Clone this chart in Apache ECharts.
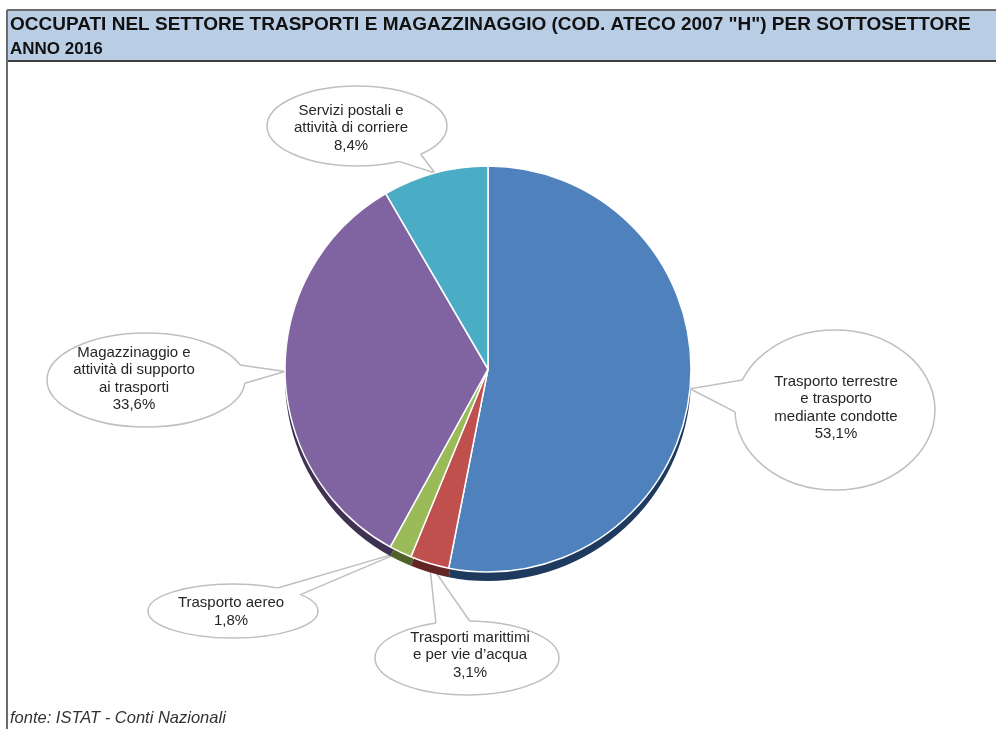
<!DOCTYPE html>
<html>
<head>
<meta charset="utf-8">
<script src="https://cdn.jsdelivr.net/npm/echarts@6/dist/echarts.min.js"></script>
<style>
html,body{margin:0;padding:0;background:#fff;}
#c{width:996px;height:729px;}
</style>
</head>
<body>
<div id="c"></div>
<script>
// ---- data ----
const categories = [
  'Trasporto terrestre\ne trasporto\nmediante condotte',
  'Trasporti marittimi\ne per vie d\u2019acqua',
  'Trasporto aereo',
  'Magazzinaggio e\nattivit\u00e0 di supporto\nai trasporti',
  'Servizi postali e\nattivit\u00e0 di corriere'
];
const values = [53.1, 3.1, 1.8, 33.6, 8.4];
const titleLine1 = 'OCCUPATI NEL SETTORE TRASPORTI E MAGAZZINAGGIO (COD. ATECO 2007 "H") PER SOTTOSETTORE';
const titleLine2 = 'ANNO 2016';
const sourceText = 'fonte: ISTAT - Conti Nazionali';

// ---- styles / layout ----
const topColors = ['#4F81BD', '#C0504D', '#9BBB59', '#8064A2', '#4BACC6'];
const sideColors = ['#1F3A5F', '#632523', '#4F6228', '#3F3151', '#215968'];
const pieCenter = [488, 369];
const pieRadius = 203;
const depth = 9;
// callout ellipses (layout only): center, radii, tail base chord, text center
const callouts = [
  {cx: 835, cy: 410, rx: 100, ry: 80, chord: 33, tx: 836, ty: 408},
  {cx: 467, cy: 658, rx: 92, ry: 37, chord: 34, tx: 470, ty: 655},
  {cx: 233, cy: 611, rx: 85, ry: 27, chord: 24, tx: 231, ty: 612},
  {cx: 146, cy: 380, rx: 99, ry: 47, chord: 19, tx: 134, ty: 379},
  {cx: 357, cy: 126, rx: 90, ry: 40, chord: 23, tx: 351, ty: 128}
];

const fmt = v => v.toFixed(1).replace('.', ',') + '%';
const total = values.reduce((a, b) => a + b, 0);
const FONT = 'Liberation Sans, Arial, sans-serif';

const graphics = [];
// frame
graphics.push({type: 'rect', shape: {x: 7, y: 10, width: 995, height: 51}, style: {fill: '#B9CDE5'}, z: 0});
graphics.push({type: 'line', shape: {x1: 7, y1: 10, x2: 996, y2: 10}, style: {stroke: '#6b6b6b', lineWidth: 2}, z: 0});
graphics.push({type: 'line', shape: {x1: 7, y1: 61, x2: 996, y2: 61}, style: {stroke: '#404040', lineWidth: 2}, z: 0});
graphics.push({type: 'line', shape: {x1: 7, y1: 10, x2: 7, y2: 729}, style: {stroke: '#6b6b6b', lineWidth: 2}, z: 0});

// callouts: tails point to slice mid-angles computed from the data
let cum = 0;
values.forEach((v, i) => {
  const mid = (cum + v / 2) / total * Math.PI * 2; // clockwise from top
  cum += v;
  const tipX = pieCenter[0] + pieRadius * Math.sin(mid);
  const tipY = pieCenter[1] - pieRadius * Math.cos(mid);
  const c = callouts[i];
  const th = Math.atan2((tipY - c.cy) / c.ry, (tipX - c.cx) / c.rx);
  const dmag = Math.sqrt(Math.pow(c.rx * Math.sin(th), 2) + Math.pow(c.ry * Math.cos(th), 2));
  const d = (c.chord / 2) / dmag;
  const p1 = [c.cx + c.rx * Math.cos(th - d), c.cy + c.ry * Math.sin(th - d)];
  const p2 = [c.cx + c.rx * Math.cos(th + d), c.cy + c.ry * Math.sin(th + d)];
  const k = 0.9;
  const q1 = [c.cx + c.rx * k * Math.cos(th - d), c.cy + c.ry * k * Math.sin(th - d)];
  const q2 = [c.cx + c.rx * k * Math.cos(th + d), c.cy + c.ry * k * Math.sin(th + d)];
  graphics.push({type: 'ellipse', shape: {cx: c.cx, cy: c.cy, rx: c.rx, ry: c.ry},
    style: {fill: '#fff', stroke: '#BFBFBF', lineWidth: 1.5}, z: 1});
  graphics.push({type: 'polygon', shape: {points: [q1, p1, [tipX, tipY], p2, q2]},
    style: {fill: '#fff', stroke: null}, z: 1});
  graphics.push({type: 'polyline', shape: {points: [p1, [tipX, tipY], p2]},
    style: {fill: null, stroke: '#BFBFBF', lineWidth: 1.5}, z: 1});
});

const chart = echarts.init(document.getElementById('c'), null, {renderer: 'canvas'});
chart.setOption({
  animation: false,
  backgroundColor: '#fff',
  title: [
    {text: titleLine1, left: 10, top: 14, padding: 0,
     textStyle: {fontFamily: FONT, fontSize: 19, fontWeight: 'bold', color: '#111', lineHeight: 22}},
    {text: titleLine2, left: 10, top: 39, padding: 0,
     textStyle: {fontFamily: FONT, fontSize: 17, fontWeight: 'bold', color: '#111', lineHeight: 20}},
    {text: sourceText, left: 10, top: 708, padding: 0,
     textStyle: {fontFamily: FONT, fontSize: 16.5, fontStyle: 'italic', fontWeight: 'normal', color: '#333', lineHeight: 20}}
  ],
  graphic: {elements: graphics},
  series: [
    {
      type: 'pie', silent: true, z: 2,
      center: [pieCenter[0], pieCenter[1] + depth], radius: pieRadius,
      startAngle: 90, clockwise: true,
      label: {show: false}, labelLine: {show: false},
      itemStyle: {borderWidth: 0},
      data: values.map((v, i) => ({value: v, name: categories[i], itemStyle: {color: sideColors[i]}}))
    },
    {
      type: 'pie', silent: true, z: 3,
      center: pieCenter, radius: pieRadius,
      startAngle: 90, clockwise: true,
      itemStyle: {borderColor: '#fff', borderWidth: 1.5},
      label: {
        show: true,
        formatter: p => p.name + '\n' + fmt(p.value),
        fontFamily: FONT,
        fontSize: 15, lineHeight: 17.5, color: '#262626', align: 'center'
      },
      labelLine: {show: false},
      labelLayout: p => ({x: callouts[p.dataIndex].tx, y: callouts[p.dataIndex].ty, align: 'center', verticalAlign: 'middle'}),
      data: values.map((v, i) => ({value: v, name: categories[i], itemStyle: {color: topColors[i]}}))
    }
  ]
});
</script>
</body>
</html>
